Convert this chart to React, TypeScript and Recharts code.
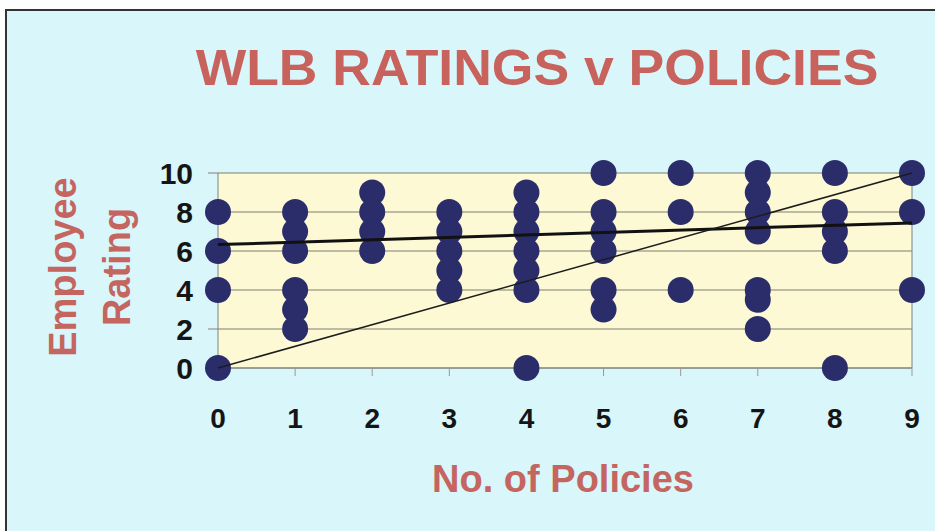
import React from 'react';
import { ScatterChart, Scatter, XAxis, YAxis, CartesianGrid, ReferenceLine } from 'recharts';

// x categories: number of policies
const policies = [0, 1, 2, 3, 4, 5, 6, 7, 8, 9];
const ratingTicks = [0, 2, 4, 6, 8, 10];

// employee ratings observed at each number of policies
const ratingsByPolicy: number[][] = [
  [8, 6, 4, 0],
  [8, 7, 6, 4, 3, 2],
  [9, 8, 7, 6],
  [8, 7, 6, 5, 4],
  [9, 8, 7, 6, 5, 4, 0],
  [10, 8, 7, 6, 4, 3],
  [10, 8, 4],
  [10, 9, 8, 7, 4, 3.5, 2],
  [10, 8, 7, 6, 0],
  [10, 8, 4],
];

// trend line and the diagonal reference line
const lineX = [0, 9];
const trendRating = [6.33, 7.44];
const diagonalRating = [0, 10];

const points = policies.flatMap((p, i) => ratingsByPolicy[i].map((r) => ({ policies: p, rating: r })));
const trendData = lineX.map((x, i) => ({ policies: x, rating: trendRating[i] }));
const diagonalData = lineX.map((x, i) => ({ policies: x, rating: diagonalRating[i] }));

const font = '"Liberation Sans", Arial, sans-serif';
const labelColor = '#c5655f';

const Dot = (props: any) => <circle cx={props.cx} cy={props.cy} r={13} fill="#2b2d6b" />;
const NoDot = () => <g />;

const centered = (left: number, top: number, extra: React.CSSProperties = {}): React.CSSProperties => ({
  position: 'absolute',
  left,
  top,
  transform: 'translate(-50%, -50%)',
  whiteSpace: 'nowrap',
  lineHeight: 1,
  fontFamily: font,
  fontWeight: 'bold',
  color: labelColor,
  ...extra,
});

export default function App() {
  return (
    <div style={{ position: 'fixed', left: 0, top: 0, width: 935, height: 531, background: '#fdfefe', overflow: 'hidden' }}>
      {/* framed chart area */}
      <div style={{ position: 'absolute', left: 5, top: 9, right: 0, bottom: 0, background: '#d9f6fa', borderLeft: '2px solid #333', borderTop: '2px solid #333' }} />

      <div style={{ position: 'absolute', left: 0, top: 0 }}>
        <ScatterChart width={935} height={531} margin={{ top: 173, right: 23, bottom: 123, left: 158 }}>
          <CartesianGrid vertical={false} stroke="#7f7f70" fill="#fcf9d4" />
          <XAxis
            type="number"
            dataKey="policies"
            domain={[0, 9]}
            ticks={policies}
            interval={0}
            height={40}
            tickSize={8}
            tickMargin={32}
            axisLine={{ stroke: '#808080' }}
            tickLine={{ stroke: '#999' }}
            tick={{ fill: '#151515', fontSize: 28, fontWeight: 'bold', fontFamily: font }}
          />
          <YAxis
            type="number"
            dataKey="rating"
            domain={[0, 10]}
            ticks={ratingTicks}
            interval={0}
            width={60}
            tickSize={10}
            tickMargin={15}
            axisLine={{ stroke: '#808080' }}
            tickLine={{ stroke: '#808080' }}
            tick={{ fill: '#151515', fontSize: 30, fontWeight: 'bold', fontFamily: font }}
          />
          <ReferenceLine x={9} stroke="#808080" />
          <Scatter data={points} shape={Dot} isAnimationActive={false} />
          <Scatter data={trendData} shape={NoDot} line={{ stroke: '#111', strokeWidth: 3 }} isAnimationActive={false} />
          <Scatter data={diagonalData} shape={NoDot} line={{ stroke: '#1c1c1c', strokeWidth: 1.5 }} isAnimationActive={false} />
        </ScatterChart>
      </div>

      <div style={centered(537, 68, { fontSize: 50, transform: 'translate(-50%, -50%) scaleX(1.07)', color: '#c8625c' })}>
        WLB RATINGS v POLICIES
      </div>
      <div style={centered(63, 267, { fontSize: 38, transform: 'translate(-50%, -50%) rotate(-90deg)' })}>Employee</div>
      <div style={centered(117, 267, { fontSize: 38, transform: 'translate(-50%, -50%) rotate(-90deg)' })}>Rating</div>
      <div style={centered(563, 479, { fontSize: 38 })}>No. of Policies</div>
    </div>
  );
}
